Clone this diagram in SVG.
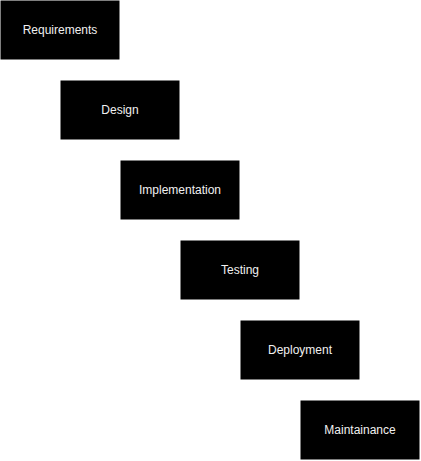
<svg xmlns="http://www.w3.org/2000/svg" width="421" height="461" viewBox="0 0 421 461">
<style>
.box{fill:#000000;stroke:#000000;stroke-width:1}
.lbl{font-family:"Liberation Sans",Arial,sans-serif;font-size:12px;fill:#f0f0f0;text-anchor:middle;dominant-baseline:central}
</style>
<rect x="0" y="0" width="421" height="461" fill="#ffffff"/>
<g id="connectors"></g>
<g id="requirements"><rect class="box" x="1" y="1" width="118" height="58"/><text class="lbl" x="60" y="30">Requirements</text></g>
<g id="design"><rect class="box" x="61" y="81" width="118" height="58"/><text class="lbl" x="120" y="110">Design</text></g>
<g id="implementation"><rect class="box" x="121" y="161" width="118" height="58"/><text class="lbl" x="180" y="190">Implementation</text></g>
<g id="testing"><rect class="box" x="181" y="241" width="118" height="58"/><text class="lbl" x="240" y="270">Testing</text></g>
<g id="deployment"><rect class="box" x="241" y="321" width="118" height="58"/><text class="lbl" x="300" y="350">Deployment</text></g>
<g id="maintainance"><rect class="box" x="301" y="401" width="118" height="58"/><text class="lbl" x="360" y="430">Maintainance</text></g>
</svg>
